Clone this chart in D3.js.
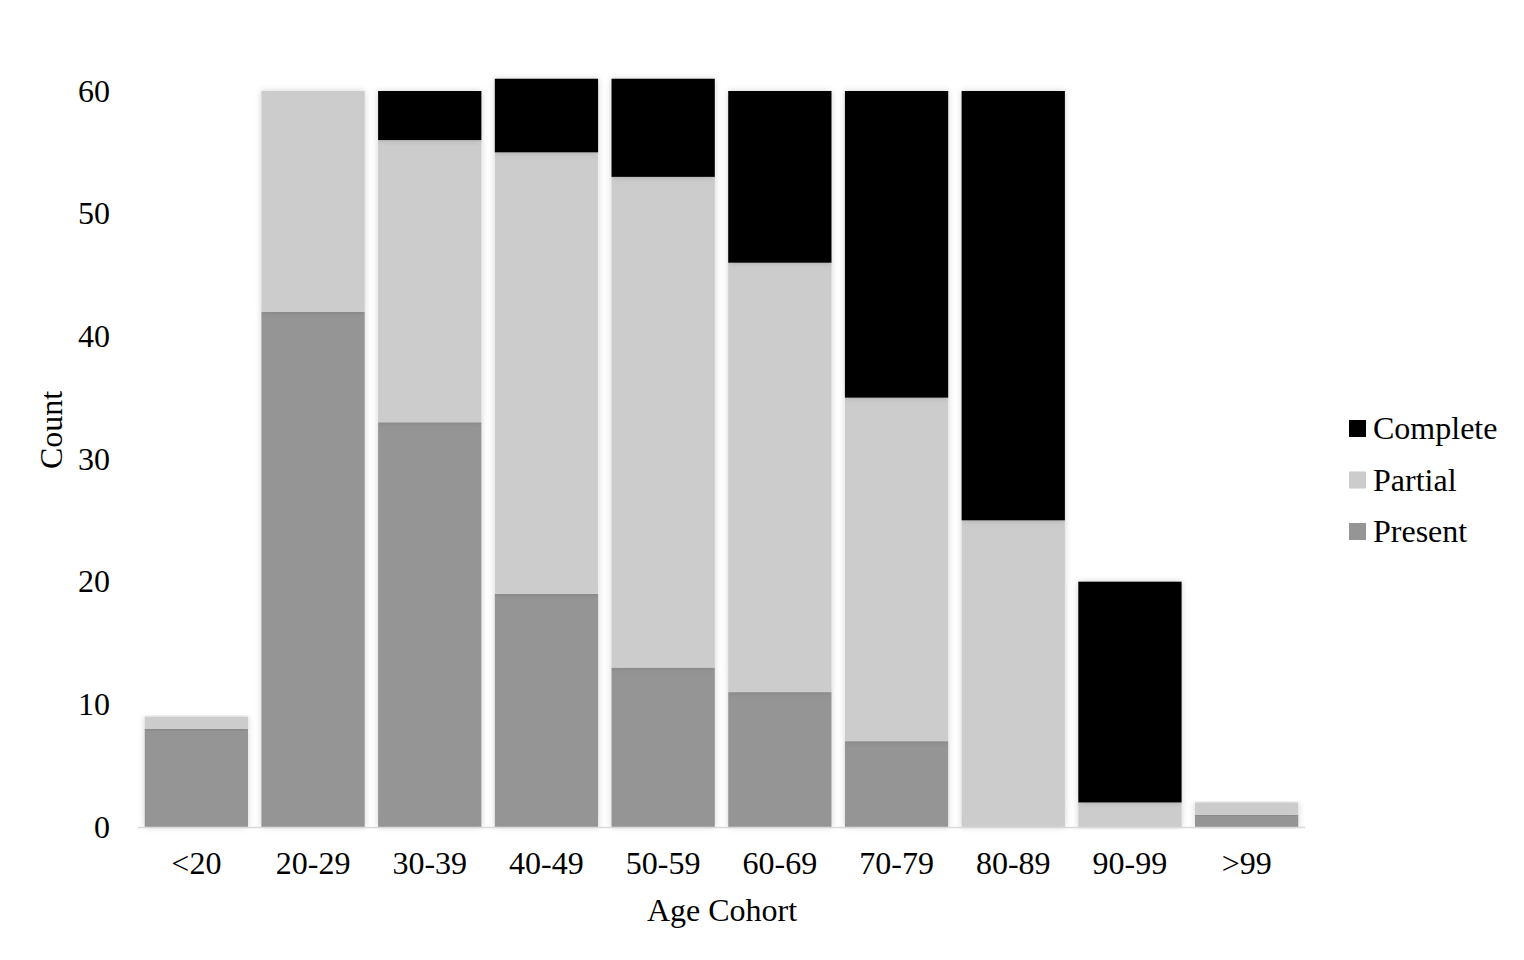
<!DOCTYPE html>
<html lang="en">
<head>
    <meta charset="UTF-8">
    <title>Age Cohort Counts</title>
    <script src="https://d3js.org/d3.v7.min.js"></script>
    <style>
        body {
            margin: 0;
            background: #fff;
        }
        text {
            font-family: "Liberation Serif", "Times New Roman", serif;
            fill: #000;
        }
        .tick text {
            font-size: 32px;
        }
        .axis-title {
            font-size: 32px;
        }
        .legend-label {
            font-size: 32px;
        }
    </style>
</head>
<body>
    <div id="chart"></div>
    <script>
        const width = 1524;
        const height = 960;

        // data
        const cohorts = ["<20", "20-29", "30-39", "40-49", "50-59", "60-69", "70-79", "80-89", "90-99", ">99"];
        const present  = [8, 42, 33, 19, 13, 11, 7, 0, 0, 1];
        const partial  = [1, 18, 23, 36, 40, 35, 28, 25, 2, 1];
        const complete = [0, 0, 4, 6, 8, 14, 25, 35, 18, 0];
        const seriesNames = ["Present", "Partial", "Complete"];
        const yTicks = [0, 10, 20, 30, 40, 50, 60];

        const colors = d3.scaleOrdinal()
            .domain(seriesNames)
            .range(["#959595", "#cccccc", "#000000"]);

        const rows = cohorts.map((c, i) => ({
            cohort: c,
            Present: present[i],
            Partial: partial[i],
            Complete: complete[i]
        }));

        const svg = d3.select("#chart")
            .append("svg")
            .attr("width", width)
            .attr("height", height);

        // soft shadow like the original export
        const defs = svg.append("defs");
        const shadow = defs.append("filter")
            .attr("id", "shadow")
            .attr("x", "-10%").attr("y", "-10%")
            .attr("width", "120%").attr("height", "120%");
        shadow.append("feDropShadow")
            .attr("dx", 0).attr("dy", 0)
            .attr("stdDeviation", 3)
            .attr("flood-color", "#000")
            .attr("flood-opacity", 0.18);

        const x = d3.scaleBand()
            .domain(cohorts)
            .range([138, 1305])
            .paddingInner(0.115)
            .paddingOuter(0.0575);

        const y = d3.scaleLinear()
            .domain([0, 60])
            .range([827, 91]);

        const stack = d3.stack().keys(seriesNames);
        const stacked = stack(rows);

        const layers = svg.selectAll(".layer")
            .data(stacked)
            .enter()
            .append("g")
            .attr("class", "layer")
            .attr("fill", d => colors(d.key));

        layers.selectAll("rect")
            .data(d => d)
            .enter()
            .append("rect")
            .attr("x", d => x(d.data.cohort))
            .attr("y", d => y(d[1]))
            .attr("width", x.bandwidth())
            .attr("height", d => y(d[0]) - y(d[1]))
            .attr("filter", d => (d[1] - d[0] > 0 ? "url(#shadow)" : null));

        // baseline
        svg.append("line")
            .attr("x1", 138)
            .attr("x2", 1305)
            .attr("y1", y(0) + 0.5)
            .attr("y2", y(0) + 0.5)
            .attr("stroke", "#d9d9d9")
            .attr("stroke-width", 1.5);

        // axes
        const yAxis = svg.append("g")
            .attr("transform", "translate(138,0)")
            .call(d3.axisLeft(y).tickValues(yTicks).tickSize(0).tickPadding(28));
        yAxis.select(".domain").remove();
        yAxis.selectAll("text").attr("font-family", null).attr("font-size", null);

        const xAxis = svg.append("g")
            .attr("transform", `translate(0,${y(0)})`)
            .call(d3.axisBottom(x).tickSize(0).tickPadding(24));
        xAxis.select(".domain").remove();
        xAxis.selectAll("text").attr("font-family", null).attr("font-size", null);

        svg.append("text")
            .attr("class", "axis-title")
            .attr("text-anchor", "middle")
            .attr("transform", "translate(62,430) rotate(-90)")
            .text("Count");

        svg.append("text")
            .attr("class", "axis-title")
            .attr("text-anchor", "middle")
            .attr("x", 722)
            .attr("y", 921)
            .text("Age Cohort");

        // legend
        const legendOrder = ["Complete", "Partial", "Present"];
        const legend = svg.selectAll(".legend")
            .data(legendOrder)
            .enter()
            .append("g")
            .attr("class", "legend")
            .attr("transform", (d, i) => `translate(1349,${420 + i * 51.5})`);

        legend.append("rect")
            .attr("width", 17)
            .attr("height", 17)
            .attr("fill", d => colors(d));

        legend.append("text")
            .attr("class", "legend-label")
            .attr("x", 24)
            .attr("y", 19)
            .text(d => d);
    </script>
</body>
</html>
